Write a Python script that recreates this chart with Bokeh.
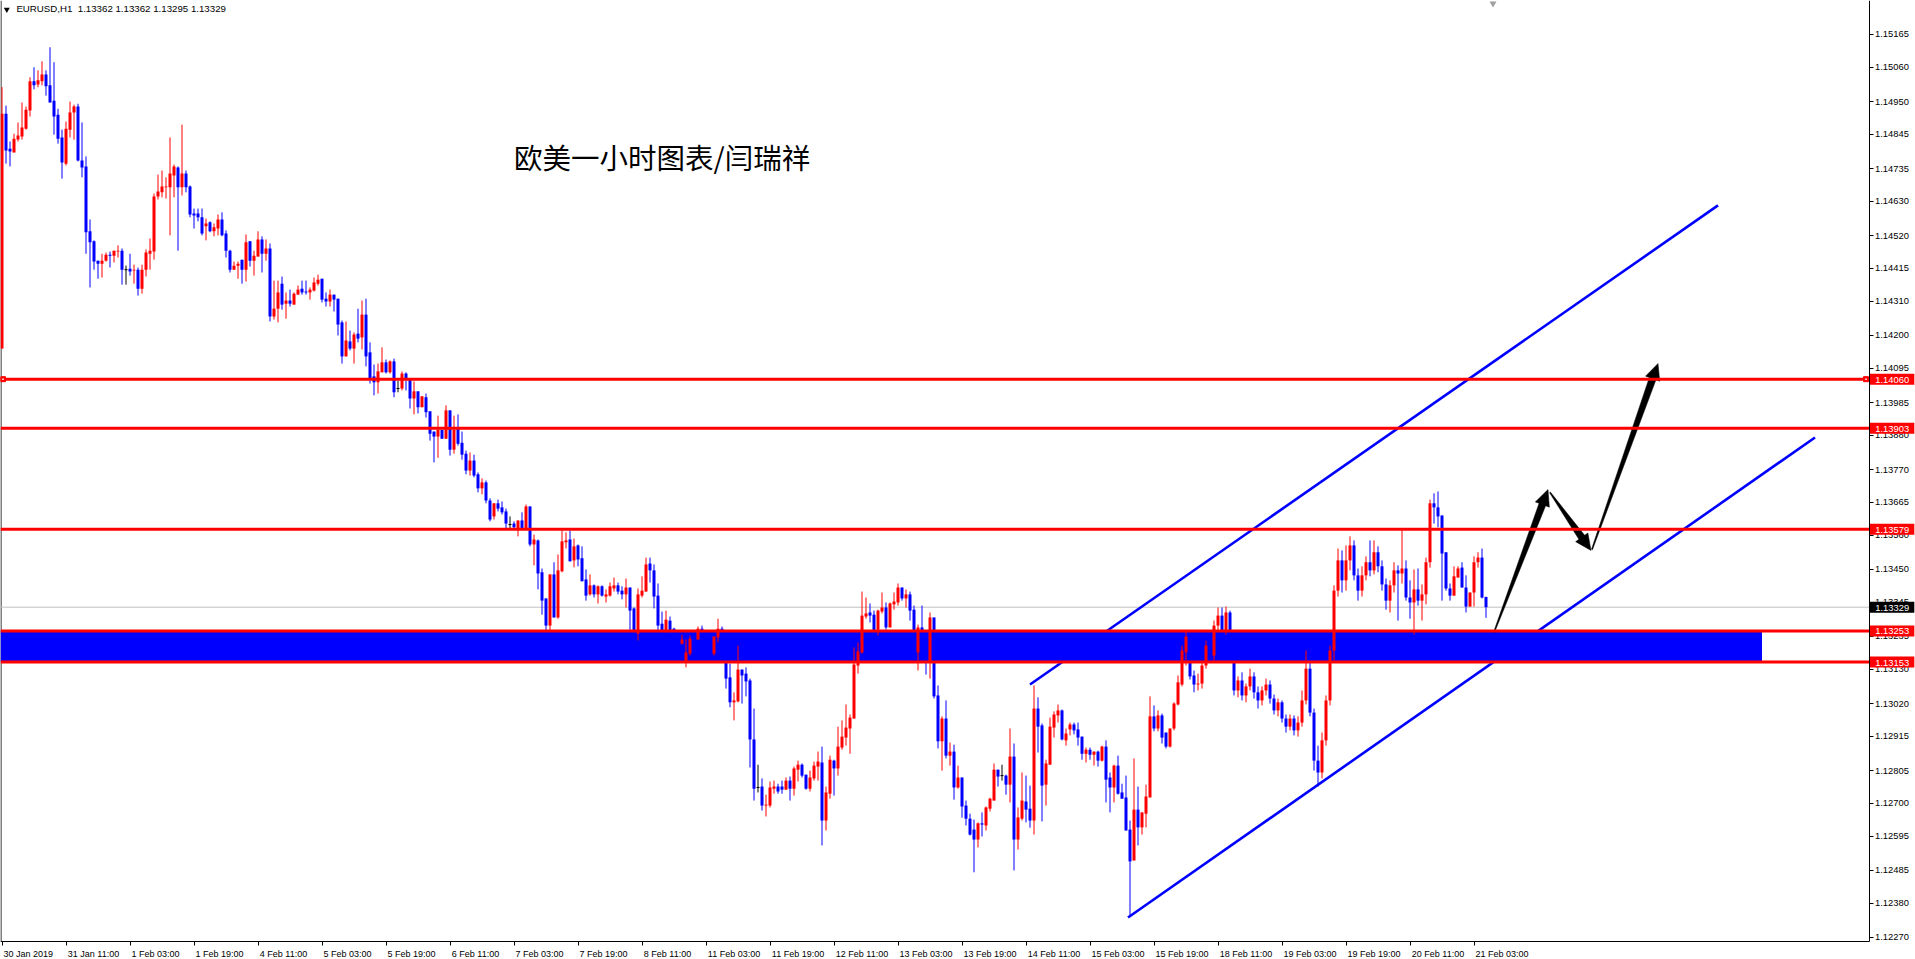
import math
import numpy as np
from bokeh.plotting import figure
from bokeh.models import (Range1d, LinearAxis, FixedTicker, Label,
                          ColumnDataSource, PrintfTickFormatter)
from bokeh.embed import file_html
from bokeh.resources import INLINE

# ---------------- data (EURUSD H1) ----------------
opens = [
1.14158, 1.14911, 1.14799, 1.14787, 1.14828, 1.14838, 1.14863, 1.14921, 1.15015, 1.15005,
1.15015, 1.15037, 1.15002, 1.14953, 1.14908, 1.14835, 1.14751, 1.14860, 1.14915, 1.14934,
1.14761, 1.14742, 1.14534, 1.14502, 1.14440, 1.14430, 1.14440, 1.14459, 1.14456, 1.14469,
1.14472, 1.14411, 1.14414, 1.14408, 1.14411, 1.14350, 1.14411, 1.14462, 1.14469, 1.14646,
1.14659, 1.14675, 1.14675, 1.14713, 1.14739, 1.14675, 1.14719, 1.14678, 1.14591, 1.14591,
1.14579, 1.14550, 1.14563, 1.14534, 1.14543, 1.14572, 1.14527, 1.14472, 1.14411, 1.14424,
1.14443, 1.14411, 1.14502, 1.14440, 1.14453, 1.14508, 1.14462, 1.14479, 1.14261, 1.14286,
1.14366, 1.14302, 1.14312, 1.14299, 1.14331, 1.14350, 1.14341, 1.14338, 1.14344, 1.14366,
1.14382, 1.14318, 1.14309, 1.14331, 1.14318, 1.14242, 1.14133, 1.14181, 1.14158, 1.14206,
1.14194, 1.14267, 1.14146, 1.14069, 1.14050, 1.14082, 1.14114, 1.14082, 1.14117, 1.14030,
1.14030, 1.14078, 1.14062, 1.13998, 1.14021, 1.13970, 1.14002, 1.13957, 1.13892, 1.13876,
1.13898, 1.13869, 1.13960, 1.13834, 1.13905, 1.13856, 1.13821, 1.13767, 1.13799, 1.13755,
1.13710, 1.13729, 1.13671, 1.13620, 1.13662, 1.13649, 1.13636, 1.13594, 1.13597, 1.13581,
1.13607, 1.13581, 1.13652, 1.13530, 1.13543, 1.13441, 1.13357, 1.13270, 1.13434, 1.13296,
1.13444, 1.13537, 1.13546, 1.13479, 1.13527, 1.13486, 1.13418, 1.13370, 1.13399, 1.13370,
1.13396, 1.13363, 1.13366, 1.13389, 1.13399, 1.13382, 1.13370, 1.13392, 1.13325, 1.13244,
1.13366, 1.13379, 1.13469, 1.13447, 1.13366, 1.13276, 1.13254, 1.13286, 1.13260, 1.13222,
1.13212, 1.13152, 1.13180, 1.13228, 1.13225, 1.13260, 1.13222, 1.13206, 1.13180, 1.13232,
1.13260, 1.13190, 1.13104, 1.13024, 1.13027, 1.13129, 1.13116, 1.13094, 1.12905, 1.12751,
1.12754, 1.12693, 1.12693, 1.12747, 1.12754, 1.12754, 1.12744, 1.12773, 1.12747, 1.12808,
1.12824, 1.12792, 1.12747, 1.12780, 1.12818, 1.12831, 1.12645, 1.12731, 1.12837, 1.12812,
1.12879, 1.12911, 1.12940, 1.12972, 1.13142, 1.13184, 1.13299, 1.13312, 1.13305, 1.13257,
1.13315, 1.13328, 1.13264, 1.13338, 1.13344, 1.13392, 1.13357, 1.13370, 1.13321, 1.13184,
1.13264, 1.13206, 1.13152, 1.13296, 1.13046, 1.12899, 1.12972, 1.12853, 1.12866, 1.12751,
1.12783, 1.12693, 1.12651, 1.12616, 1.12584, 1.12636, 1.12629, 1.12683, 1.12709, 1.12808,
1.12789, 1.12789, 1.12760, 1.12850, 1.12584, 1.12651, 1.12706, 1.12683, 1.12645, 1.13004,
1.12950, 1.12760, 1.12824, 1.12943, 1.12982, 1.12998, 1.12902, 1.12937, 1.12953, 1.12937,
1.12914, 1.12859, 1.12872, 1.12856, 1.12866, 1.12837, 1.12882, 1.12783, 1.12751, 1.12821,
1.12735, 1.12719, 1.12616, 1.12517, 1.12680, 1.12623, 1.12667, 1.12719, 1.12979, 1.12940,
1.12982, 1.12927, 1.12882, 1.12940, 1.13017, 1.13081, 1.13184, 1.13222, 1.13110, 1.13081,
1.13084, 1.13142, 1.13206, 1.13174, 1.13270, 1.13302, 1.13254, 1.13312, 1.13190, 1.13062,
1.13094, 1.13046, 1.13075, 1.13107, 1.13056, 1.13030, 1.13062, 1.13081, 1.13036, 1.12998,
1.13024, 1.12972, 1.12946, 1.12972, 1.12934, 1.12959, 1.13030, 1.13132, 1.12991, 1.12837,
1.12799, 1.12902, 1.13030, 1.13190, 1.13382, 1.13479, 1.13415, 1.13479, 1.13527, 1.13431,
1.13382, 1.13431, 1.13473, 1.13447, 1.13505, 1.13460, 1.13402, 1.13350, 1.13399, 1.13447,
1.13437, 1.13453, 1.13360, 1.13344, 1.13386, 1.13350, 1.13370, 1.13473, 1.13662, 1.13649,
1.13623, 1.13505, 1.13389, 1.13366, 1.13424, 1.13456, 1.13392, 1.13331, 1.13376, 1.13473,
1.13488, 1.13362]

highs = [
1.14996, 1.14937, 1.14822, 1.14847, 1.14883, 1.14947, 1.14934, 1.15028, 1.15060, 1.15050,
1.15079, 1.15050, 1.15124, 1.15076, 1.14927, 1.14860, 1.14886, 1.14950, 1.14940, 1.14943,
1.14883, 1.14774, 1.14572, 1.14505, 1.14440, 1.14462, 1.14466, 1.14469, 1.14472, 1.14489,
1.14479, 1.14424, 1.14462, 1.14427, 1.14418, 1.14427, 1.14476, 1.14511, 1.14655, 1.14716,
1.14729, 1.14707, 1.14835, 1.14748, 1.14742, 1.14876, 1.14729, 1.14681, 1.14607, 1.14607,
1.14607, 1.14575, 1.14566, 1.14559, 1.14588, 1.14595, 1.14537, 1.14475, 1.14437, 1.14437,
1.14443, 1.14524, 1.14502, 1.14472, 1.14534, 1.14518, 1.14508, 1.14495, 1.14376, 1.14376,
1.14389, 1.14338, 1.14347, 1.14338, 1.14360, 1.14376, 1.14376, 1.14354, 1.14386, 1.14395,
1.14382, 1.14338, 1.14347, 1.14331, 1.14318, 1.14248, 1.14245, 1.14216, 1.14210, 1.14286,
1.14312, 1.14318, 1.14178, 1.14107, 1.14110, 1.14162, 1.14123, 1.14120, 1.14126, 1.14056,
1.14085, 1.14082, 1.14062, 1.14053, 1.14021, 1.14005, 1.14014, 1.13957, 1.13892, 1.13943,
1.13898, 1.13976, 1.13960, 1.13943, 1.13947, 1.13892, 1.13831, 1.13825, 1.13818, 1.13761,
1.13742, 1.13735, 1.13678, 1.13662, 1.13674, 1.13668, 1.13645, 1.13620, 1.13604, 1.13607,
1.13633, 1.13658, 1.13652, 1.13562, 1.13546, 1.13453, 1.13357, 1.13434, 1.13473, 1.13498,
1.13575, 1.13569, 1.13575, 1.13549, 1.13530, 1.13524, 1.13450, 1.13434, 1.13402, 1.13399,
1.13399, 1.13386, 1.13408, 1.13424, 1.13408, 1.13396, 1.13421, 1.13392, 1.13328, 1.13389,
1.13428, 1.13488, 1.13488, 1.13466, 1.13405, 1.13315, 1.13318, 1.13299, 1.13263, 1.13238,
1.13241, 1.13225, 1.13238, 1.13244, 1.13267, 1.13270, 1.13238, 1.13222, 1.13235, 1.13292,
1.13267, 1.13206, 1.13148, 1.13056, 1.13206, 1.13129, 1.13136, 1.13100, 1.13004, 1.12824,
1.12780, 1.12728, 1.12770, 1.12773, 1.12763, 1.12773, 1.12783, 1.12786, 1.12818, 1.12837,
1.12828, 1.12792, 1.12805, 1.12834, 1.12866, 1.12882, 1.12754, 1.12853, 1.12840, 1.12946,
1.12966, 1.13017, 1.12985, 1.13200, 1.13216, 1.13379, 1.13360, 1.13341, 1.13318, 1.13321,
1.13376, 1.13344, 1.13344, 1.13376, 1.13405, 1.13392, 1.13386, 1.13379, 1.13334, 1.13273,
1.13334, 1.13222, 1.13312, 1.13296, 1.13078, 1.12979, 1.13030, 1.12895, 1.12888, 1.12821,
1.12783, 1.12709, 1.12667, 1.12648, 1.12639, 1.12671, 1.12690, 1.12718, 1.12828, 1.12808,
1.12824, 1.12792, 1.12940, 1.12892, 1.12687, 1.12799, 1.12789, 1.12757, 1.13078, 1.13040,
1.12956, 1.12840, 1.12975, 1.12995, 1.13017, 1.13001, 1.12940, 1.12959, 1.12959, 1.12959,
1.12914, 1.12879, 1.12879, 1.12866, 1.12869, 1.12885, 1.12902, 1.12799, 1.12824, 1.12853,
1.12763, 1.12789, 1.12645, 1.12844, 1.12754, 1.12671, 1.12760, 1.13043, 1.13014, 1.12998,
1.12988, 1.12927, 1.12940, 1.13024, 1.13110, 1.13206, 1.13254, 1.13248, 1.13126, 1.13116,
1.13158, 1.13222, 1.13228, 1.13286, 1.13328, 1.13328, 1.13331, 1.13318, 1.13196, 1.13107,
1.13120, 1.13084, 1.13132, 1.13120, 1.13075, 1.13075, 1.13100, 1.13094, 1.13049, 1.13036,
1.13030, 1.12985, 1.12985, 1.12982, 1.12979, 1.13062, 1.13190, 1.13158, 1.13004, 1.12885,
1.12927, 1.13046, 1.13206, 1.13399, 1.13517, 1.13511, 1.13527, 1.13556, 1.13543, 1.13453,
1.13460, 1.13492, 1.13543, 1.13543, 1.13524, 1.13479, 1.13421, 1.13415, 1.13473, 1.13463,
1.13575, 1.13479, 1.13415, 1.13450, 1.13453, 1.13402, 1.13488, 1.13674, 1.13694, 1.13700,
1.13623, 1.13505, 1.13405, 1.13460, 1.13460, 1.13473, 1.13431, 1.13376, 1.13492, 1.13505,
1.13517, 1.13362]

lows = [
1.14158, 1.14751, 1.14742, 1.14787, 1.14822, 1.14828, 1.14860, 1.14902, 1.14989, 1.14996,
1.15002, 1.14969, 1.14947, 1.14844, 1.14815, 1.14703, 1.14745, 1.14835, 1.14828, 1.14758,
1.14707, 1.14462, 1.14354, 1.14411, 1.14382, 1.14386, 1.14437, 1.14418, 1.14434, 1.14450,
1.14363, 1.14363, 1.14392, 1.14366, 1.14328, 1.14334, 1.14389, 1.14411, 1.14443, 1.14636,
1.14643, 1.14639, 1.14521, 1.14643, 1.14472, 1.14649, 1.14659, 1.14579, 1.14543, 1.14566,
1.14521, 1.14505, 1.14531, 1.14518, 1.14521, 1.14518, 1.14450, 1.14402, 1.14411, 1.14382,
1.14366, 1.14373, 1.14421, 1.14392, 1.14453, 1.14402, 1.14440, 1.14245, 1.14251, 1.14242,
1.14283, 1.14254, 1.14293, 1.14299, 1.14331, 1.14331, 1.14331, 1.14315, 1.14341, 1.14360,
1.14306, 1.14293, 1.14293, 1.14277, 1.14200, 1.14110, 1.14133, 1.14152, 1.14110, 1.14178,
1.14155, 1.14101, 1.14046, 1.14008, 1.14014, 1.14082, 1.14078, 1.14078, 1.14002, 1.14018,
1.14024, 1.14024, 1.13966, 1.13947, 1.13950, 1.13970, 1.13937, 1.13863, 1.13793, 1.13808,
1.13869, 1.13869, 1.13815, 1.13821, 1.13847, 1.13802, 1.13755, 1.13751, 1.13745, 1.13697,
1.13691, 1.13662, 1.13604, 1.13610, 1.13636, 1.13626, 1.13581, 1.13581, 1.13581, 1.13556,
1.13581, 1.13581, 1.13524, 1.13463, 1.13386, 1.13305, 1.13254, 1.13254, 1.13296, 1.13292,
1.13441, 1.13517, 1.13476, 1.13457, 1.13460, 1.13412, 1.13350, 1.13366, 1.13360, 1.13341,
1.13363, 1.13344, 1.13363, 1.13379, 1.13370, 1.13354, 1.13328, 1.13254, 1.13222, 1.13222,
1.13360, 1.13379, 1.13408, 1.13325, 1.13254, 1.13238, 1.13248, 1.13238, 1.13206, 1.13184,
1.13209, 1.13136, 1.13174, 1.13196, 1.13225, 1.13206, 1.13190, 1.13174, 1.13174, 1.13216,
1.13190, 1.13068, 1.13008, 1.12966, 1.13024, 1.13020, 1.13043, 1.12815, 1.12709, 1.12735,
1.12677, 1.12658, 1.12687, 1.12731, 1.12731, 1.12731, 1.12744, 1.12709, 1.12725, 1.12770,
1.12783, 1.12744, 1.12738, 1.12773, 1.12773, 1.12565, 1.12613, 1.12715, 1.12725, 1.12789,
1.12872, 1.12885, 1.12859, 1.12972, 1.13116, 1.13180, 1.13292, 1.13280, 1.13254, 1.13238,
1.13309, 1.13257, 1.13264, 1.13321, 1.13334, 1.13350, 1.13328, 1.13286, 1.13222, 1.13126,
1.13190, 1.13113, 1.13100, 1.13036, 1.12876, 1.12805, 1.12844, 1.12821, 1.12712, 1.12747,
1.12654, 1.12629, 1.12597, 1.12479, 1.12559, 1.12594, 1.12613, 1.12674, 1.12709, 1.12754,
1.12773, 1.12728, 1.12703, 1.12485, 1.12552, 1.12645, 1.12639, 1.12622, 1.12600, 1.12863,
1.12642, 1.12693, 1.12824, 1.12911, 1.12959, 1.12902, 1.12885, 1.12918, 1.12921, 1.12885,
1.12840, 1.12831, 1.12840, 1.12821, 1.12818, 1.12834, 1.12703, 1.12671, 1.12703, 1.12728,
1.12715, 1.12613, 1.12340, 1.12517, 1.12565, 1.12600, 1.12623, 1.12719, 1.12931, 1.12931,
1.12892, 1.12876, 1.12879, 1.12934, 1.13014, 1.13075, 1.13142, 1.13097, 1.13056, 1.13062,
1.13068, 1.13132, 1.13158, 1.13158, 1.13254, 1.13222, 1.13241, 1.13174, 1.13046, 1.13040,
1.13030, 1.13024, 1.13062, 1.13036, 1.13004, 1.13014, 1.13046, 1.13020, 1.12985, 1.12979,
1.12959, 1.12927, 1.12934, 1.12918, 1.12914, 1.12946, 1.13017, 1.12979, 1.12805, 1.12754,
1.12780, 1.12885, 1.13014, 1.13158, 1.13363, 1.13376, 1.13382, 1.13447, 1.13415, 1.13350,
1.13363, 1.13415, 1.13428, 1.13434, 1.13441, 1.13382, 1.13321, 1.13312, 1.13376, 1.13286,
1.13405, 1.13350, 1.13292, 1.13241, 1.13334, 1.13286, 1.13338, 1.13456, 1.13597, 1.13585,
1.13350, 1.13382, 1.13350, 1.13366, 1.13424, 1.13392, 1.13312, 1.13331, 1.13331, 1.13456,
1.13357, 1.13295]

closes = [
1.14911, 1.14793, 1.14790, 1.14831, 1.14841, 1.14867, 1.14924, 1.15015, 1.15002, 1.15018,
1.15037, 1.14999, 1.14947, 1.14902, 1.14831, 1.14755, 1.14863, 1.14915, 1.14934, 1.14761,
1.14739, 1.14531, 1.14499, 1.14437, 1.14430, 1.14440, 1.14459, 1.14456, 1.14472, 1.14472,
1.14411, 1.14411, 1.14405, 1.14411, 1.14350, 1.14411, 1.14466, 1.14472, 1.14646, 1.14662,
1.14678, 1.14678, 1.14719, 1.14742, 1.14675, 1.14719, 1.14675, 1.14588, 1.14585, 1.14579,
1.14527, 1.14559, 1.14534, 1.14547, 1.14572, 1.14521, 1.14472, 1.14411, 1.14424, 1.14430,
1.14411, 1.14499, 1.14440, 1.14456, 1.14508, 1.14462, 1.14479, 1.14261, 1.14286, 1.14338,
1.14299, 1.14312, 1.14302, 1.14334, 1.14347, 1.14338, 1.14338, 1.14347, 1.14370, 1.14379,
1.14315, 1.14309, 1.14331, 1.14315, 1.14235, 1.14133, 1.14184, 1.14158, 1.14203, 1.14190,
1.14267, 1.14133, 1.14059, 1.14050, 1.14085, 1.14114, 1.14082, 1.14117, 1.14018, 1.14030,
1.14078, 1.14062, 1.13998, 1.14021, 1.13970, 1.14005, 1.13954, 1.13885, 1.13876, 1.13898,
1.13869, 1.13960, 1.13834, 1.13898, 1.13853, 1.13818, 1.13767, 1.13799, 1.13751, 1.13710,
1.13729, 1.13671, 1.13610, 1.13662, 1.13645, 1.13633, 1.13597, 1.13594, 1.13585, 1.13607,
1.13581, 1.13652, 1.13530, 1.13546, 1.13437, 1.13350, 1.13270, 1.13434, 1.13296, 1.13447,
1.13540, 1.13543, 1.13476, 1.13524, 1.13482, 1.13412, 1.13366, 1.13399, 1.13370, 1.13396,
1.13366, 1.13370, 1.13396, 1.13399, 1.13379, 1.13370, 1.13392, 1.13318, 1.13248, 1.13370,
1.13382, 1.13466, 1.13447, 1.13363, 1.13270, 1.13248, 1.13289, 1.13254, 1.13222, 1.13212,
1.13225, 1.13184, 1.13228, 1.13206, 1.13260, 1.13222, 1.13206, 1.13180, 1.13235, 1.13260,
1.13206, 1.13100, 1.13024, 1.13030, 1.13129, 1.13110, 1.13091, 1.12905, 1.12747, 1.12751,
1.12693, 1.12696, 1.12751, 1.12754, 1.12738, 1.12744, 1.12773, 1.12747, 1.12812, 1.12824,
1.12789, 1.12747, 1.12783, 1.12821, 1.12834, 1.12645, 1.12735, 1.12840, 1.12812, 1.12882,
1.12914, 1.12943, 1.12975, 1.13145, 1.13187, 1.13302, 1.13309, 1.13302, 1.13254, 1.13318,
1.13328, 1.13264, 1.13341, 1.13347, 1.13392, 1.13357, 1.13370, 1.13318, 1.13238, 1.13264,
1.13206, 1.13174, 1.13296, 1.13043, 1.12899, 1.12972, 1.12853, 1.12866, 1.12751, 1.12783,
1.12690, 1.12651, 1.12600, 1.12584, 1.12636, 1.12632, 1.12687, 1.12715, 1.12808, 1.12786,
1.12789, 1.12760, 1.12850, 1.12584, 1.12655, 1.12709, 1.12680, 1.12645, 1.13004, 1.12946,
1.12757, 1.12828, 1.12946, 1.12985, 1.12998, 1.12905, 1.12924, 1.12953, 1.12934, 1.12911,
1.12859, 1.12872, 1.12856, 1.12866, 1.12837, 1.12882, 1.12776, 1.12751, 1.12821, 1.12731,
1.12715, 1.12613, 1.12514, 1.12680, 1.12623, 1.12671, 1.12722, 1.12979, 1.12940, 1.12982,
1.12911, 1.12882, 1.12940, 1.13020, 1.13088, 1.13190, 1.13235, 1.13107, 1.13081, 1.13084,
1.13142, 1.13206, 1.13174, 1.13270, 1.13302, 1.13254, 1.13312, 1.13190, 1.13062, 1.13094,
1.13046, 1.13075, 1.13107, 1.13056, 1.13030, 1.13062, 1.13081, 1.13036, 1.12998, 1.13024,
1.12972, 1.12946, 1.12972, 1.12934, 1.12959, 1.13030, 1.13132, 1.12991, 1.12837, 1.12799,
1.12902, 1.13030, 1.13190, 1.13382, 1.13479, 1.13415, 1.13479, 1.13527, 1.13431, 1.13382,
1.13431, 1.13473, 1.13447, 1.13505, 1.13460, 1.13402, 1.13350, 1.13399, 1.13447, 1.13437,
1.13453, 1.13360, 1.13344, 1.13386, 1.13350, 1.13370, 1.13473, 1.13662, 1.13649, 1.13620,
1.13501, 1.13389, 1.13366, 1.13428, 1.13453, 1.13392, 1.13331, 1.13376, 1.13473, 1.13488,
1.13360, 1.13329]

time_tick_bars = [0, 16, 32, 48, 64, 80, 96, 112, 128, 144, 160, 176,
                  192, 208, 224, 240, 256, 272, 288, 304, 320, 336, 352, 368]
time_tick_labels = ["30 Jan 2019", "31 Jan 11:00", "1 Feb 03:00", "1 Feb 19:00",
                    "4 Feb 11:00", "5 Feb 03:00", "5 Feb 19:00", "6 Feb 11:00",
                    "7 Feb 03:00", "7 Feb 19:00", "8 Feb 11:00", "11 Feb 03:00",
                    "11 Feb 19:00", "12 Feb 11:00", "13 Feb 03:00", "13 Feb 19:00",
                    "14 Feb 11:00", "15 Feb 03:00", "15 Feb 19:00", "18 Feb 11:00",
                    "19 Feb 03:00", "19 Feb 19:00", "20 Feb 11:00", "21 Feb 03:00"]
price_ticks = [1.15165, 1.15060, 1.14950, 1.14845, 1.14735, 1.14630, 1.14520, 1.14415,
               1.14310, 1.14200, 1.14095, 1.13985, 1.13880, 1.13770, 1.13665, 1.13560,
               1.13450, 1.13345, 1.13235, 1.13130, 1.13020, 1.12915, 1.12805, 1.12700,
               1.12595, 1.12485, 1.12380, 1.12270]

level_prices = [1.14060, 1.13903, 1.13579, 1.13253, 1.13153]
zone_bottom = [1.13153]
zone_top = [1.13253]
zone_end_bar = [440.0]
current_price = 1.13329
header_text = "EURUSD,H1\u00a0 1.13362 1.13362 1.13295 1.13329"
title_text = "欧美一小时图表/闫瑞祥"

upper_channel_bars = [257.0, 429.0]
upper_channel_prices = [1.13081, 1.14617]
lower_channel_bars = [281.5, 453.25]
lower_channel_prices = [1.12334, 1.13873]

arrow_tail_bars = [373.0, 387.0, 397.5]
arrow_tail_prices = [1.13248, 1.13697, 1.13514]
arrow_tip_bars = [386.5, 397.25, 414.0]
arrow_tip_prices = [1.13706, 1.13511, 1.14110]

# ---------------- figure / scales ----------------
W, H = 1915, 959
PX_PER_BAR = 4.0
PX_PER_PRICE = 31191.7
X0 = -0.375
X1 = X0 + W / PX_PER_BAR
Y1 = 1.15274
Y0 = Y1 - H / PX_PER_PRICE
AXIS_X = 466.75                       # bar position of the price scale
AXIS_Y = Y1 - 941 / PX_PER_PRICE      # price position of the time scale

p = figure(width=W, height=H, output_backend="svg", toolbar_location=None,
           x_range=Range1d(X0, X1), y_range=Range1d(Y0, Y1),
           x_axis_location=None, y_axis_location=None,
           min_border_left=0, min_border_top=0, min_border_right=0, min_border_bottom=0)
p.grid.visible = False
p.outline_line_color = None
p.background_fill_color = "white"
p.border_fill_color = "white"

FONT = "Liberation Sans"

# time axis: tick marks at the bar positions (minor ticks), labels placed to their right
cw = {' ': 0.278, ':': 0.278, 'J': 0.5, 'a': 0.556, 'n': 0.556, 'F': 0.611, 'e': 0.556, 'b': 0.556}
def text_w(s, size=9.0):
    return sum(cw.get(ch, 0.556) for ch in s) * size

label_pos = [round(b + (text_w(t) / 2 + 1.5) / PX_PER_BAR, 3)
             for b, t in zip(time_tick_bars, time_tick_labels)]
xaxis = LinearAxis(ticker=FixedTicker(ticks=label_pos, minor_ticks=time_tick_bars),
                   fixed_location=AXIS_Y, bounds=(X0, AXIS_X))
xaxis.major_label_overrides = {lp: t for lp, t in zip(label_pos, time_tick_labels)}
xaxis.major_tick_line_color = None
xaxis.major_tick_in = 0
xaxis.major_tick_out = 0
xaxis.minor_tick_line_color = "black"
xaxis.minor_tick_in = 0
xaxis.minor_tick_out = 4
xaxis.major_label_standoff = 3
xaxis.axis_line_color = "black"
xaxis.major_label_text_font = FONT
xaxis.major_label_text_font_size = "9px"
xaxis.major_label_text_color = "black"
p.add_layout(xaxis, "below")

yaxis = LinearAxis(ticker=FixedTicker(ticks=price_ticks),
                   formatter=PrintfTickFormatter(format="%.5f"),
                   fixed_location=AXIS_X, bounds=(AXIS_Y, Y1))
yaxis.major_tick_in = 0
yaxis.major_tick_out = 4
yaxis.minor_tick_line_color = None
yaxis.major_label_standoff = 2
yaxis.axis_line_color = "black"
yaxis.major_tick_line_color = "black"
yaxis.major_label_text_font = FONT
yaxis.major_label_text_font_size = "9.4px"
yaxis.major_label_text_color = "black"
p.add_layout(yaxis, "right")

# left border of the chart window
p.segment(x0=[X0 + 0.125], y0=[AXIS_Y], x1=[X0 + 0.125], y1=[Y1], line_color="black", line_width=1)

# current price line (behind candles)
p.segment(x0=[X0], y0=[current_price], x1=[AXIS_X], y1=[current_price],
          line_color="#C0C0C0", line_width=1)

# support zone (background rectangle)
p.quad(left=[X0], right=zone_end_bar, bottom=zone_bottom, top=zone_top,
       fill_color="#0000FF", line_color=None)

# candles
o = np.array(opens); h = np.array(highs); l = np.array(lows); c = np.array(closes)
idx = np.arange(len(o))
colors = np.where(c > o, "#FF0000", np.where(c < o, "#0000FF", "#000000"))
src = ColumnDataSource(dict(x=idx, o=o, h=h, l=l, c=c,
                            top=np.maximum(o, c), bot=np.minimum(o, c), color=colors))
p.segment(x0="x", y0="h", x1="x", y1="l", line_color="color", line_width=1, source=src)
p.vbar(x="x", width=0.75, top="top", bottom="bot", fill_color="color",
       line_color=None, source=src)
doji = o == c
dsrc = ColumnDataSource(dict(x0=idx[doji] - 0.375, x1=idx[doji] + 0.375, y=o[doji]))
p.segment(x0="x0", y0="y", x1="x1", y1="y", line_color="black", line_width=1, source=dsrc)

# channel lines
p.line(upper_channel_bars, upper_channel_prices, line_color="#0000FF", line_width=2.6)
p.line(lower_channel_bars, lower_channel_prices, line_color="#0000FF", line_width=2.6)

# arrows (tapered shafts with heads), built in pixel space then mapped back
def arrow_poly(bx0, py0, bx1, py1, tail_w=1.0, shaft_w=7.0, head_w=15.0, head_len=16.0):
    sx, sy = PX_PER_BAR, PX_PER_PRICE
    X0p, Y0p = bx0 * sx, py0 * sy
    X1p, Y1p = bx1 * sx, py1 * sy
    dx, dy = X1p - X0p, Y1p - Y0p
    L = math.hypot(dx, dy)
    ux, uy = dx / L, dy / L
    nx, ny = -uy, ux
    Bx, By = X1p - ux * head_len, Y1p - uy * head_len
    pts = [(X0p + nx * tail_w / 2, Y0p + ny * tail_w / 2),
           (Bx + nx * shaft_w / 2, By + ny * shaft_w / 2),
           (Bx + nx * head_w / 2, By + ny * head_w / 2),
           (X1p, Y1p),
           (Bx - nx * head_w / 2, By - ny * head_w / 2),
           (Bx - nx * shaft_w / 2, By - ny * shaft_w / 2),
           (X0p - nx * tail_w / 2, Y0p - ny * tail_w / 2)]
    return [q[0] / sx for q in pts], [q[1] / sy for q in pts]

axs, ays = [], []
for a, b, cc, d in zip(arrow_tail_bars, arrow_tail_prices, arrow_tip_bars, arrow_tip_prices):
    xs_, ys_ = arrow_poly(a, b, cc, d)
    axs.append(xs_); ays.append(ys_)
p.patches(axs, ays, fill_color="black", line_color="black", line_width=0.5)

# horizontal levels (stop at the price scale)
n_lv = len(level_prices)
p.segment(x0=[X0] * n_lv, y0=level_prices, x1=[AXIS_X] * n_lv, y1=level_prices,
          line_color="#FF0000", line_width=3)

# selection squares on the top level
p.scatter([0.25, 466.0], [level_prices[0]] * 2, marker="square", size=5,
          fill_color="#FF0000", line_color="#FF0000")
p.scatter([0.25, 466.0], [level_prices[0]] * 2, marker="square", size=1.5,
          fill_color="white", line_color=None)

# "chart shift" marker at top
p.scatter([372.75], [Y1 - 3.0 / PX_PER_PRICE], marker="inverted_triangle", size=7,
          fill_color="#A0A0A0", line_color=None)

# header
p.scatter([1.2], [Y1 - 9.0 / PX_PER_PRICE], marker="inverted_triangle", size=6,
          fill_color="black", line_color=None)
p.add_layout(Label(x=3.6, y=Y1 - 8.0 / PX_PER_PRICE, text=header_text, text_font=FONT,
                   text_font_size="9.7px", text_color="black",
                   text_baseline="middle", text_align="left"))

# Chinese title
p.add_layout(Label(x=128.0, y=1.14774, text=title_text, text_font="Noto Sans CJK SC",
                   text_font_size="28.5px", text_color="black",
                   text_baseline="middle", text_align="left"))

# price tags on the price scale
NB = "\u00a0\u00a0"
tags = [(lv, "#FF0000") for lv in level_prices] + [(current_price, "#000000")]
for lv, bg in tags:
    p.add_layout(Label(x=AXIS_X, y=lv, x_offset=1, text=f"{NB}{lv:.5f}{NB}", text_font=FONT,
                       text_font_size="9.4px", text_color="white",
                       text_baseline="middle", text_align="left",
                       background_fill_color=bg, border_line_color=None))

open("out.html", "w").write(file_html(p, INLINE))
